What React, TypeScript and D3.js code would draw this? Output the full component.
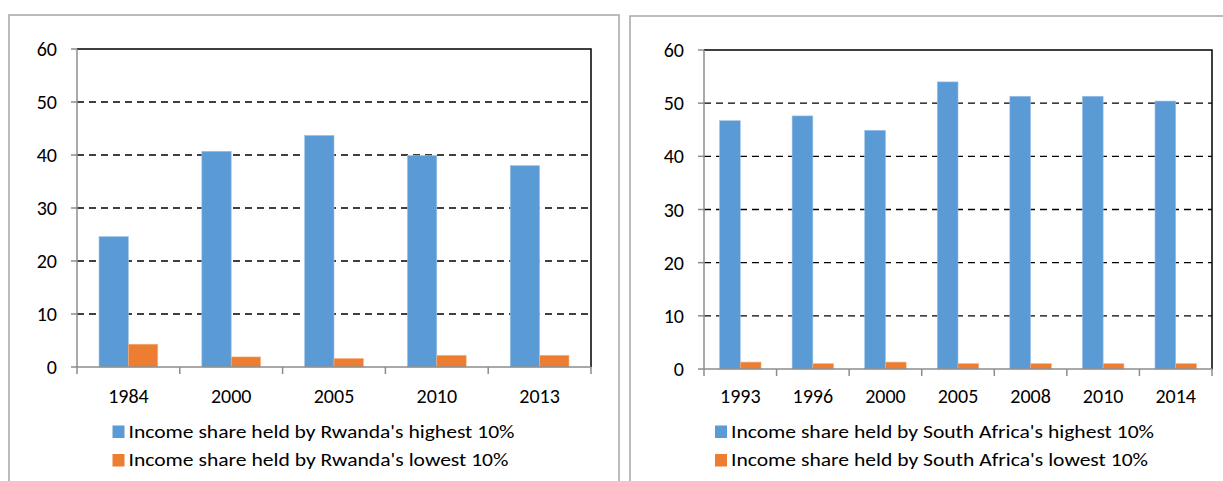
import { scaleBand, scaleLinear } from "d3";

const yTicks = [0, 10, 20, 30, 40, 50, 60];

const rwandaYears = ["1984", "2000", "2005", "2010", "2013"];
const rwandaHighest = [24.6, 40.7, 43.7, 39.9, 38.0];
const rwandaLowest = [4.3, 1.9, 1.6, 2.2, 2.2];

const saYears = ["1993", "1996", "2000", "2005", "2008", "2010", "2014"];
const saHighest = [46.7, 47.6, 44.9, 54.0, 51.3, 51.3, 50.4];
const saLowest = [1.3, 1.0, 1.3, 1.0, 1.0, 1.0, 1.0];

const blue = "#5B9BD5";
const orange = "#ED7D31";
const axisGray = "#8C8C8C";
const frameGray = "#A6A6A6";
const font = "Carlito, Lato, sans-serif";

type PanelProps = {
  country: string;
  years: string[];
  highest: number[];
  lowest: number[];
  frame: { x: number; y: number; w: number; h: number };
  plot: { left: number; top: number; right: number; bottom: number };
  legendX: number;
  legendWidths: [number, number];
};

const Panel = ({
  country,
  years,
  highest,
  lowest,
  frame,
  plot,
  legendX,
  legendWidths,
}: PanelProps) => {
  const { left, top, right, bottom } = plot;
  const x = scaleBand<string>().domain(years).range([left, right]);
  const inner = scaleBand<string>()
    .domain(["high", "low"])
    .range([0, x.bandwidth()])
    .paddingInner(0)
    .paddingOuter(0.75);
  const y = scaleLinear().domain([0, 60]).range([bottom, top]);
  const boundaries = [...years.map((d) => x(d) as number), right];

  const legend = [
    { label: `Income share held by ${country}'s highest 10%`, color: blue },
    { label: `Income share held by ${country}'s lowest 10%`, color: orange },
  ];

  return (
    <g>
      <rect
        x={frame.x}
        y={frame.y}
        width={frame.w}
        height={frame.h}
        fill="white"
        stroke={frameGray}
        strokeWidth={1.5}
      />
      {/* gridlines */}
      {yTicks
        .filter((t) => t > 0 && t < 60)
        .map((t) => (
          <line
            key={t}
            x1={left}
            x2={right}
            y1={y(t)}
            y2={y(t)}
            stroke="#000"
            strokeWidth={1.3}
            strokeDasharray="7,5"
          />
        ))}
      {/* bars */}
      {years.map((yr, i) => (
        <g key={yr} transform={`translate(${x(yr)},0)`}>
          <rect
            x={inner("high")}
            y={y(highest[i])}
            width={inner.bandwidth()}
            height={bottom - y(highest[i])}
            fill={blue}
            stroke="#9DC3E6"
            strokeWidth={0.6}
          />
          <rect
            x={inner("low")}
            y={y(lowest[i])}
            width={inner.bandwidth()}
            height={bottom - y(lowest[i])}
            fill={orange}
            stroke="#F4B183"
            strokeWidth={0.6}
          />
        </g>
      ))}
      {/* plot border top/right */}
      <path
        d={`M${left},${top}H${right}V${bottom}`}
        fill="none"
        stroke="#000"
        strokeWidth={1.5}
      />
      {/* y axis */}
      <line x1={left} x2={left} y1={top} y2={bottom} stroke={axisGray} strokeWidth={1.5} />
      {yTicks.map((t) => (
        <g key={t}>
          <line x1={left - 6} x2={left} y1={y(t)} y2={y(t)} stroke={axisGray} strokeWidth={1.5} />
          <text
            x={left - 20}
            y={y(t) + 7}
            textAnchor="end"
            fontFamily={font}
            fontSize={20}
            fill="#000"
          >
            {t}
          </text>
        </g>
      ))}
      {/* x axis */}
      <line x1={left} x2={right} y1={bottom} y2={bottom} stroke={axisGray} strokeWidth={1.5} />
      {boundaries.map((b, i) => (
        <line key={i} x1={b} x2={b} y1={bottom} y2={bottom + 7} stroke={axisGray} strokeWidth={1.5} />
      ))}
      {years.map((yr) => (
        <text
          key={yr}
          x={(x(yr) as number) + x.bandwidth() / 2}
          y={403}
          textAnchor="middle"
          fontFamily={font}
          fontSize={20}
          fill="#000"
        >
          {yr}
        </text>
      ))}
      {/* legend */}
      {legend.map((l, i) => (
        <g key={l.label}>
          <rect x={legendX - 16} y={425.5 + i * 28.5} width={12} height={12.5} fill={l.color} />
          <text
            x={legendX}
            y={437.5 + i * 28.5}
            fontFamily={font}
            fontSize={19}
            fill="#000"
            textLength={legendWidths[i]}
            lengthAdjust="spacingAndGlyphs"
          >
            {l.label}
          </text>
        </g>
      ))}
    </g>
  );
};

export default function App() {
  return (
    <svg
      width={1223}
      height={481}
      viewBox="0 0 1223 481"
      style={{ position: "absolute", left: 0, top: 0, background: "white" }}
    >
      <Panel
        country="Rwanda"
        years={rwandaYears}
        highest={rwandaHighest}
        lowest={rwandaLowest}
        frame={{ x: 9, y: 15, w: 610, h: 500 }}
        plot={{ left: 77, top: 49, right: 591, bottom: 367 }}
        legendX={128.5}
        legendWidths={[386, 380]}
      />
      <Panel
        country="South Africa"
        years={saYears}
        highest={saHighest}
        lowest={saLowest}
        frame={{ x: 630, y: 16, w: 620, h: 500 }}
        plot={{ left: 704, top: 50, right: 1212, bottom: 369 }}
        legendX={731}
        legendWidths={[423, 417]}
      />
    </svg>
  );
}
